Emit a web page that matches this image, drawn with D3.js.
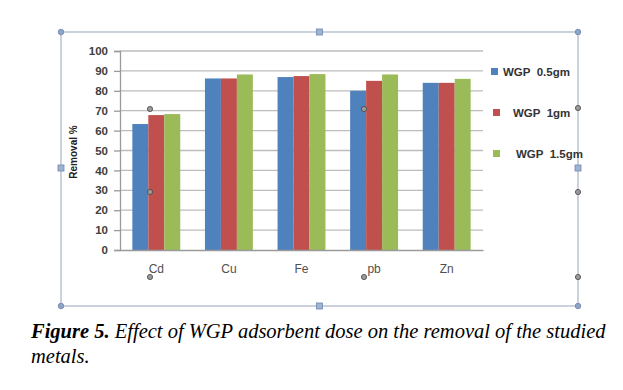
<!DOCTYPE html>
<html><head><meta charset="utf-8">
<script src="https://cdn.jsdelivr.net/npm/d3@7"></script>
<style>body{margin:0;background:#fff;} svg{display:block;}</style>
</head><body>
<script>
const categories = ["Cd", "Cu", "Fe", "pb", "Zn"];
const seriesNames = ["WGP  0.5gm", "WGP  1gm", "WGP  1.5gm"];
const dose05 = [63.3, 86.2, 86.9, 80.0, 84.0];
const dose1 = [67.8, 86.2, 87.4, 85.0, 84.0];
const dose15 = [68.3, 88.2, 88.4, 88.2, 86.0];
const yTicks = [0, 10, 20, 30, 40, 50, 60, 70, 80, 90, 100];
const colors = ["#4f81bd", "#c0504d", "#9bbb59"];
const series = [dose05, dose1, dose15];

const W = 623, H = 390;
const svg = d3.select("body").append("svg").attr("width", W).attr("height", H);

// selection frame (decorative)
const frameColor = "#a8b4c8";
const fr = {l: 61, r: 578, t: 32, b: 306};
const frame = svg.append("g");
frame.append("rect").attr("x", fr.l).attr("y", fr.t).attr("width", fr.r - fr.l).attr("height", fr.b - fr.t)
  .attr("fill", "none").attr("stroke", frameColor).attr("stroke-width", 1.2);
[[fr.l, fr.t], [fr.r, fr.t], [fr.l, fr.b], [fr.r, fr.b]].forEach(p =>
  frame.append("circle").attr("cx", p[0]).attr("cy", p[1]).attr("r", 2.8).attr("fill", "#8fa3c4").attr("stroke", "#6f86ad").attr("stroke-width", 0.8));
[[(fr.l + fr.r) / 2, fr.t], [(fr.l + fr.r) / 2, fr.b], [fr.l, 168], [fr.r, 168]].forEach(p =>
  frame.append("rect").attr("x", p[0] - 3).attr("y", p[1] - 3).attr("width", 6).attr("height", 6).attr("fill", "#9fb3d3").attr("stroke", "#6f86ad").attr("stroke-width", 0.8));

const m = {l: 120, r: 483, t: 51, b: 250};
const x0 = d3.scaleBand().domain(categories).range([m.l, m.r]).paddingInner(0.34).paddingOuter(0.17);
const x1 = d3.scaleBand().domain(d3.range(3)).range([0, x0.bandwidth()]).padding(0);
const y = d3.scaleLinear().domain([0, 100]).range([m.b, m.t]);

// gridlines
svg.append("g").selectAll("line").data(yTicks.filter(t => t > 0)).join("line")
  .attr("x1", m.l).attr("x2", m.r).attr("y1", d => y(d)).attr("y2", d => y(d))
  .attr("stroke", "#bdbdbd").attr("stroke-width", 1.3);

// bars
const g = svg.append("g");
categories.forEach((c, i) => {
  series.forEach((s, k) => {
    g.append("rect").attr("x", x0(c) + x1(k)).attr("y", y(s[i]))
      .attr("width", x1.bandwidth()).attr("height", y(0) - y(s[i])).attr("fill", colors[k]);
  });
});

// y axis
const yAxis = svg.append("g").attr("transform", `translate(${m.l},0)`)
  .call(d3.axisLeft(y).tickValues(yTicks).tickSize(6).tickPadding(6));
yAxis.select(".domain").attr("stroke", "#9a9a9a").attr("stroke-width", 1.3);
yAxis.selectAll(".tick line").attr("stroke", "#9a9a9a").attr("stroke-width", 1.3);
yAxis.selectAll("text").attr("font-family", "Liberation Sans Narrow, Arial Narrow, Liberation Sans, sans-serif")
  .attr("font-size", 11.5).attr("fill", "#404040").attr("font-weight", "bold");

// x axis
const xAxis = svg.append("g").attr("transform", `translate(0,${m.b})`)
  .call(d3.axisBottom(x0).tickSize(0).tickPadding(14));
xAxis.select(".domain").attr("stroke", "#9a9a9a").attr("stroke-width", 1.3);
xAxis.selectAll("text").attr("font-family", "Liberation Sans Narrow, Arial Narrow, Liberation Sans, sans-serif")
  .attr("font-size", 12).attr("fill", "#505050");

// y title
svg.append("text").attr("transform", "translate(77,152) rotate(-90)").attr("text-anchor", "middle")
  .attr("font-family", "Liberation Sans, Arial, sans-serif").attr("font-size", 10).attr("font-weight", "bold")
  .attr("fill", "#222").text("Removal %");

// legend
const legY = [74, 115, 156];
const legX = [491, 493, 493];
const textX = [503, 513, 516];
seriesNames.forEach((n, k) => {
  svg.append("rect").attr("x", legX[k]).attr("y", legY[k] - 6).attr("width", 7).attr("height", 7).attr("fill", colors[k]);
  svg.append("text").attr("x", textX[k]).attr("y", legY[k] + 1.5).attr("xml:space", "preserve")
    .attr("font-family", "Liberation Sans Narrow, Arial Narrow, Liberation Sans, sans-serif").attr("font-size", 11.5)
    .attr("font-weight", "bold").attr("fill", "#333").text(n);
});

// connector handles (decorative)
[[150, 109], [150, 192], [150, 277], [364, 109], [364, 277], [578, 108], [578, 192], [578, 277]].forEach(p =>
  svg.append("circle").attr("cx", p[0]).attr("cy", p[1]).attr("r", 2.6).attr("fill", "#9a9a9a").attr("stroke", "#444").attr("stroke-width", 0.8));

// caption
const cap = svg.append("text").attr("x", 31).attr("y", 338)
  .attr("font-family", "Liberation Serif, Times New Roman, serif").attr("font-size", 20.5).attr("font-style", "italic").attr("fill", "#000");
cap.append("tspan").attr("font-weight", "bold").text("Figure 5.");
cap.append("tspan").text(" Effect of WGP adsorbent dose on the removal of the studied");
svg.append("text").attr("x", 31).attr("y", 363)
  .attr("font-family", "Liberation Serif, Times New Roman, serif").attr("font-size", 20.5).attr("font-style", "italic").attr("fill", "#000")
  .text("metals.");
</script>
</body></html>
